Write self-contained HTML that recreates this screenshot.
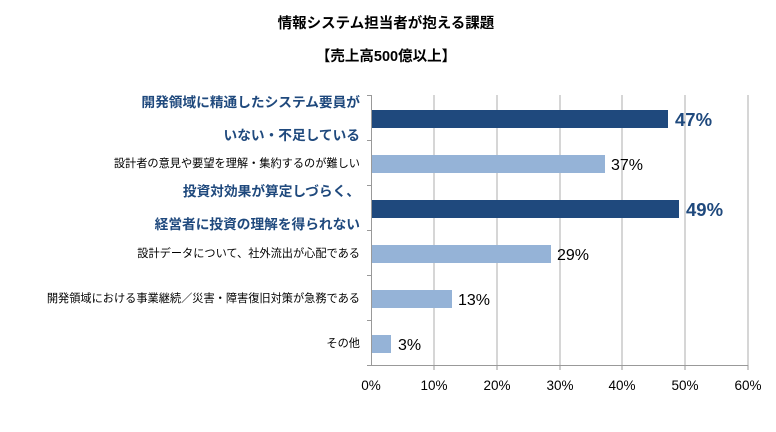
<!DOCTYPE html>
<html><head><meta charset="utf-8"><style>
body{margin:0;background:#fff;}
svg text{font-family:"Liberation Sans","Noto Sans CJK JP",sans-serif;}
</style></head><body>
<svg width="776" height="427" xmlns="http://www.w3.org/2000/svg">
<text x="386" y="28" text-anchor="middle" font-size="14.5" font-weight="bold" fill="#000">情報システム担当者が抱える課題</text>
<text x="386" y="61" text-anchor="middle" font-size="14.5" font-weight="bold" fill="#000">【売上高500億以上】</text>
<g stroke="#c8c8c8" stroke-width="1.5">
<line x1="434" y1="95" x2="434" y2="365"/><line x1="497" y1="95" x2="497" y2="365"/>
<line x1="560" y1="95" x2="560" y2="365"/><line x1="622" y1="95" x2="622" y2="365"/>
<line x1="685" y1="95" x2="685" y2="365"/><line x1="748" y1="95" x2="748" y2="365"/>
</g>
<g stroke="#999" stroke-width="1">
<line x1="371.5" y1="95" x2="371.5" y2="365"/>
<line x1="367" y1="95.5" x2="372" y2="95.5"/><line x1="367" y1="140.5" x2="372" y2="140.5"/>
<line x1="367" y1="185.5" x2="372" y2="185.5"/><line x1="367" y1="230.5" x2="372" y2="230.5"/>
<line x1="367" y1="275.5" x2="372" y2="275.5"/><line x1="367" y1="320.5" x2="372" y2="320.5"/>
<line x1="367" y1="365.5" x2="372" y2="365.5"/>
<line x1="371" y1="365.5" x2="748" y2="365.5"/>
<line x1="434" y1="365" x2="434" y2="370"/><line x1="497" y1="365" x2="497" y2="370"/><line x1="560" y1="365" x2="560" y2="370"/><line x1="622" y1="365" x2="622" y2="370"/><line x1="685" y1="365" x2="685" y2="370"/><line x1="748" y1="365" x2="748" y2="370"/>
</g>
<rect x="372" y="110" width="296" height="18" fill="#1f497d"/>
<rect x="372" y="155" width="233" height="18" fill="#95b3d7"/>
<rect x="372" y="200" width="307" height="18" fill="#1f497d"/>
<rect x="372" y="245" width="179" height="18" fill="#95b3d7"/>
<rect x="372" y="290" width="80" height="18" fill="#95b3d7"/>
<rect x="372" y="335" width="19" height="18" fill="#95b3d7"/>
<g font-size="18.5" font-weight="bold" fill="#1f497d">
<text x="675" y="126">47%</text><text x="686" y="216">49%</text>
</g>
<g font-size="16" fill="#000">
<text x="611" y="170">37%</text><text x="557" y="260">29%</text><text x="458" y="305">13%</text><text x="398" y="350">3%</text>
</g>
<g font-size="13.7" font-weight="bold" fill="#1f497d" text-anchor="end">
<text x="360" y="107">開発領域に精通したシステム要員が</text>
<text x="360" y="140">いない・不足している</text>
<text x="360" y="196">投資対効果が算定しづらく、</text>
<text x="360" y="229">経営者に投資の理解を得られない</text>
</g>
<g font-size="11.2" fill="#000" text-anchor="end">
<text x="360" y="167">設計者の意見や要望を理解・集約するのが難しい</text>
<text x="360" y="257">設計データについて、社外流出が心配である</text>
<text x="360" y="302">開発領域における事業継続／災害・障害復旧対策が急務である</text>
<text x="360" y="347">その他</text>
</g>
<g font-size="13.5" fill="#000" text-anchor="middle">
<text x="371" y="390">0%</text><text x="434" y="390">10%</text><text x="497" y="390">20%</text><text x="560" y="390">30%</text><text x="622" y="390">40%</text><text x="685" y="390">50%</text><text x="748" y="390">60%</text>
</g>
</svg>
</body></html>
